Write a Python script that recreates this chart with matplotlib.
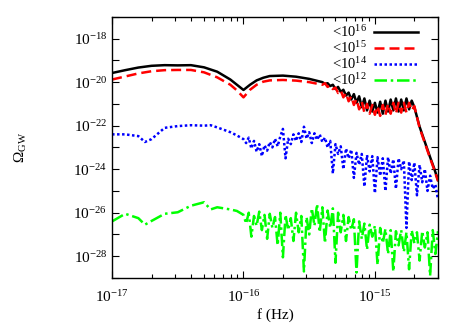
import matplotlib
matplotlib.use("Agg")
import matplotlib.pyplot as plt
import numpy as np

# log10(f) grid for the two upper curves
LOGF_A = [-17.0, -16.9, -16.8, -16.7, -16.6, -16.5, -16.4, -16.3, -16.2, -16.1,
          -16.05, -16.0, -15.95, -15.9, -15.85, -15.8, -15.7, -15.6, -15.5,
          -15.40, -15.38, -15.36, -15.34, -15.32, -15.30, -15.28, -15.26, -15.24,
          -15.22, -15.20, -15.18, -15.16, -15.14, -15.12, -15.10, -15.08, -15.06,
          -15.04, -15.02, -15.00, -14.98, -14.96, -14.94, -14.92, -14.90, -14.88,
          -14.86, -14.84, -14.82, -14.80, -14.78, -14.76, -14.74, -14.72, -14.70,
          -14.66, -14.62, -14.58, -14.55, -14.52]

# log10(Omega_GW), cut < 1e16
OMEGA_16 = [-19.58, -19.45, -19.33, -19.25, -19.22, -19.23, -19.22, -19.32, -19.52, -19.88,
            -20.12, -20.36, -20.12, -19.92, -19.80, -19.72, -19.70, -19.75, -19.85,
            -20.00, -20.08, -20.05, -20.18, -20.12, -20.32, -20.22, -20.45, -20.35,
            -20.62, -20.48, -20.80, -20.55, -20.95, -20.65, -21.15, -20.75, -21.30,
            -20.85, -21.35, -20.95, -21.40, -20.90, -21.45, -20.85, -21.35, -20.80,
            -21.30, -20.75, -21.35, -20.80, -21.30, -20.75, -21.25, -20.85, -21.15,
            -22.05, -22.75, -23.45, -23.95, -24.50]

# cut < 1e15
OMEGA_15 = [-19.88, -19.74, -19.60, -19.50, -19.45, -19.44, -19.44, -19.55, -19.78, -20.12,
            -20.38, -20.70, -20.35, -20.12, -19.98, -19.92, -19.90, -19.93, -20.00,
            -20.12, -20.05, -20.22, -20.15, -20.32, -20.25, -20.50, -20.38, -20.70,
            -20.50, -20.88, -20.65, -21.05, -20.78, -21.25, -20.90, -21.40, -21.00,
            -21.45, -21.05, -21.50, -21.10, -21.55, -21.05, -21.50, -21.00, -21.45,
            -20.95, -21.45, -20.95, -21.40, -20.95, -21.40, -20.95, -21.30, -21.10,
            -22.10, -22.80, -23.50, -24.00, -24.55]

# log10(f) grid for the two lower curves
LOGF_B = [-17.0, -16.9, -16.8, -16.75, -16.7, -16.6, -16.5, -16.4, -16.3, -16.25,
          -16.2, -16.1, -16.05, -16.0,
          -15.98, -15.96, -15.94, -15.92, -15.90, -15.88, -15.86, -15.84, -15.82, -15.80,
          -15.78, -15.76, -15.74, -15.72, -15.70, -15.68, -15.66, -15.64, -15.62, -15.60,
          -15.58, -15.56, -15.54, -15.52, -15.50, -15.48, -15.46, -15.44, -15.42, -15.40,
          -15.38, -15.36, -15.34, -15.32, -15.30, -15.28, -15.26, -15.24, -15.22, -15.20,
          -15.18, -15.16, -15.14, -15.12, -15.10, -15.08, -15.06, -15.04, -15.02, -15.00,
          -14.98, -14.96, -14.94, -14.92, -14.90, -14.88, -14.86, -14.84, -14.82, -14.80,
          -14.78, -14.76, -14.74, -14.72, -14.70, -14.68, -14.66, -14.64, -14.62, -14.60,
          -14.58, -14.56, -14.54, -14.52]

# cut < 1e14
OMEGA_14 = [-22.40, -22.40, -22.48, -22.75, -22.62, -22.10, -22.02, -21.98, -22.00, -21.98,
            -22.08, -22.30, -22.45, -22.62,
            -22.80, -22.55, -23.05, -22.70, -23.20, -22.85, -23.40, -22.90, -23.15, -22.75,
            -23.00, -22.60, -22.95, -22.50, -22.15, -23.50, -22.60, -22.85, -22.40, -22.70,
            -22.35, -22.75, -22.05, -22.60, -22.30, -22.80, -22.35, -22.65, -22.40, -22.75,
            -22.55, -23.00, -22.70, -24.20, -22.85, -23.30, -22.95, -24.00, -23.05, -23.50,
            -23.10, -24.40, -23.25, -23.80, -23.30, -24.80, -23.35, -24.10, -23.40, -25.10,
            -23.45, -24.30, -23.50, -25.00, -23.45, -24.20, -23.55, -24.90, -23.50, -24.00,
            -23.60, -26.70, -23.65, -24.50, -23.70, -25.20, -23.80, -24.60, -24.00, -25.00,
            -24.30, -24.90, -24.70, -25.40]

# cut < 1e12
OMEGA_12 = [-26.40, -26.05, -26.25, -26.55, -26.38, -26.05, -25.98, -25.68, -25.52, -25.85,
            -25.75, -25.85, -25.92, -26.10,
            -26.50, -26.00, -27.10, -26.15, -26.60, -25.95, -26.80, -26.10, -27.20, -26.05,
            -26.70, -26.20, -27.50, -26.00, -28.05, -26.10, -26.80, -26.25, -27.30, -26.00,
            -26.90, -26.15, -28.70, -26.20, -27.00, -25.80, -26.60, -25.60, -26.90, -25.75,
            -27.40, -25.90, -26.70, -25.80, -28.30, -26.00, -26.90, -26.10, -27.30, -26.20,
            -26.80, -26.30, -28.75, -26.40, -27.20, -26.50, -27.70, -26.55, -27.10, -26.60,
            -28.40, -26.70, -27.40, -26.75, -27.90, -26.80, -28.70, -26.85, -27.50, -26.80,
            -27.80, -26.90, -28.60, -26.80, -27.40, -26.90, -28.20, -26.85, -27.60, -26.90,
            -28.90, -26.80, -27.90, -26.85]

plt.rcParams["font.family"] = "serif"
plt.rcParams["font.serif"] = ["Liberation Serif", "DejaVu Serif"]
plt.rcParams["mathtext.fontset"] = "custom"
plt.rcParams["mathtext.rm"] = "Liberation Serif"
plt.rcParams["mathtext.it"] = "Liberation Serif:italic"

fig = plt.figure(figsize=(4.63, 3.24), dpi=100)
ax = fig.add_axes([0.242, 0.142, 0.704, 0.806])

fa = 10.0 ** np.array(LOGF_A)
fb = 10.0 ** np.array(LOGF_B)

ax.plot(fa, 10.0 ** np.array(OMEGA_16), color="black", lw=1.8,
        label=r"<$\mathregular{10^{16}}$")
ax.plot(fa, 10.0 ** np.array(OMEGA_15), color="red", lw=1.8,
        dashes=(4, 2), label=r"<$\mathregular{10^{15}}$")
ax.plot(fb, 10.0 ** np.array(OMEGA_14), color="blue", lw=1.8,
        dashes=(1, 1), label=r"<$\mathregular{10^{14}}$")
ax.plot(fb, 10.0 ** np.array(OMEGA_12), color="#00ff00", lw=1.8,
        dashes=(5, 1.5, 1, 1.5), label=r"<$\mathregular{10^{12}}$")

ax.set_xscale("log")
ax.set_yscale("log")
ax.set_xlim(1e-17, 10 ** -14.52)
ax.set_ylim(1e-29, 1e-17)

yt = [10.0 ** k for k in range(-29, -16)]
ax.set_yticks(yt)
ax.set_yticklabels([r"$\mathregular{10^{%d}}$" % k if k % 2 == 0 else ""
                    for k in range(-29, -16)])
ax.yaxis.set_minor_locator(matplotlib.ticker.NullLocator())
ax.set_xticks([1e-17, 1e-16, 1e-15])
ax.set_xticklabels([r"$\mathregular{10^{-17}}$", r"$\mathregular{10^{-16}}$",
                    r"$\mathregular{10^{-15}}$"])

ax.tick_params(which="both", direction="in", top=True, right=True, labelsize=11)
ax.tick_params(which="major", length=5, width=0.8)
ax.tick_params(which="minor", length=3, width=0.8)
ax.tick_params(axis="x", pad=8)
for s in ax.spines.values():
    s.set_linewidth(1.0)

ax.set_xlabel("f (Hz)", fontsize=11, labelpad=2)
ax.set_ylabel(r"$\mathregular{\Omega_{GW}}$", fontsize=11, labelpad=32)

ax.legend(loc="upper right", bbox_to_anchor=(0.97, 1.01), frameon=False,
          markerfirst=False, handlelength=3.0, labelspacing=0.0,
          handletextpad=0.5, fontsize=10.5, borderpad=0.2)

fig.savefig("out.png", dpi=100)
